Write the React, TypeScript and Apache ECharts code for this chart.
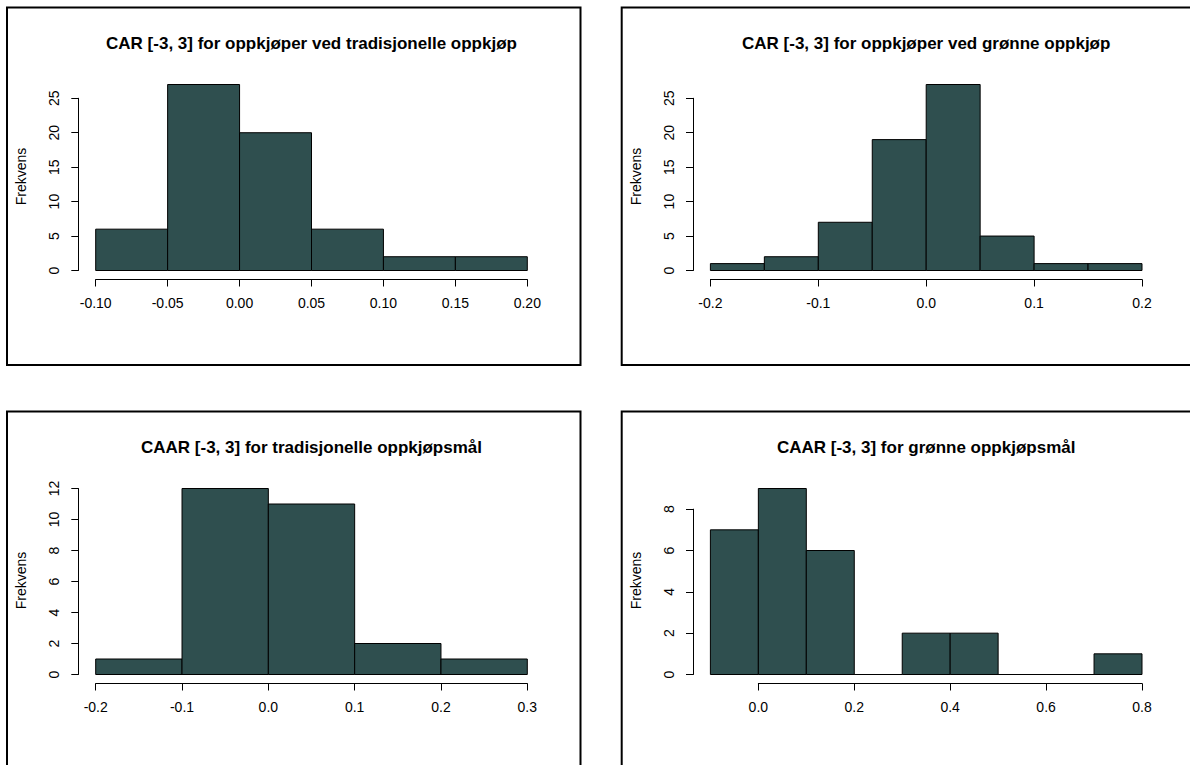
import React, { useEffect, useRef } from "react";
import * as echarts from "echarts";

// ---- Data ----
const titles = [
  "CAR [-3, 3] for oppkjøper ved tradisjonelle oppkjøp",
  "CAR [-3, 3] for oppkjøper ved grønne oppkjøp",
  "CAAR [-3, 3] for tradisjonelle oppkjøpsmål",
  "CAAR [-3, 3] for grønne oppkjøpsmål",
];
const yAxisName = "Frekvens";

const p1Edges = [-0.1, -0.05, 0.0, 0.05, 0.1, 0.15, 0.2];
const p1Counts = [6, 27, 20, 6, 2, 2];
const p1XTicks = [-0.1, -0.05, 0.0, 0.05, 0.1, 0.15, 0.2];
const p1YTicks = [0, 5, 10, 15, 20, 25];

const p2Edges = [-0.2, -0.15, -0.1, -0.05, 0.0, 0.05, 0.1, 0.15, 0.2];
const p2Counts = [1, 2, 7, 19, 27, 5, 1, 1];
const p2XTicks = [-0.2, -0.1, 0.0, 0.1, 0.2];
const p2YTicks = [0, 5, 10, 15, 20, 25];

const p3Edges = [-0.2, -0.1, 0.0, 0.1, 0.2, 0.3];
const p3Counts = [1, 12, 11, 2, 1];
const p3XTicks = [-0.2, -0.1, 0.0, 0.1, 0.2, 0.3];
const p3YTicks = [0, 2, 4, 6, 8, 10, 12];

const p4Edges = [-0.1, 0.0, 0.1, 0.2, 0.3, 0.4, 0.5, 0.6, 0.7, 0.8];
const p4Counts = [7, 9, 6, 0, 2, 2, 0, 0, 1];
const p4XTicks = [0.0, 0.2, 0.4, 0.6, 0.8];
const p4YTicks = [0, 2, 4, 6, 8];

const panels = [
  { edges: p1Edges, counts: p1Counts, xTicks: p1XTicks, yTicks: p1YTicks, dec: 2, col: 0, row: 0 },
  { edges: p2Edges, counts: p2Counts, xTicks: p2XTicks, yTicks: p2YTicks, dec: 1, col: 1, row: 0 },
  { edges: p3Edges, counts: p3Counts, xTicks: p3XTicks, yTicks: p3YTicks, dec: 1, col: 0, row: 1 },
  { edges: p4Edges, counts: p4Counts, xTicks: p4XTicks, yTicks: p4YTicks, dec: 1, col: 1, row: 1 },
];

const FONT = "'Liberation Sans', Arial, sans-serif";
const BAR_FILL = "#2F4F4F";

function buildOption() {
  const grid: any[] = [];
  const xAxis: any[] = [];
  const yAxis: any[] = [];
  const series: any[] = [];
  const graphic: any[] = [];

  const COL_DX = 614.7;
  const ROW_DY = 404;
  const PLOT_L = 95.7;
  const PLOT_W = 431.6;
  const ZERO_Y = 270.5;
  const PLOT_H = 186;
  const AXIS_X = 78.3;
  const XAXIS_Y = 279.5;

  panels.forEach((p, i) => {
    const dx = p.col * COL_DX;
    const dy = p.row * ROW_DY;
    const bMin = p.edges[0];
    const bMax = p.edges[p.edges.length - 1];
    const cMax = Math.max(...p.counts);
    const left = PLOT_L + dx;
    const top = ZERO_Y - PLOT_H + dy;
    const xPx = (v: number) => left + ((v - bMin) / (bMax - bMin)) * PLOT_W;

    // bar grid
    grid.push({ left, top, width: PLOT_W, height: PLOT_H, containLabel: false, outerBoundsMode: "none" });
    xAxis.push({ type: "value", gridIndex: 3 * i, min: bMin, max: bMax, show: false });
    yAxis.push({ type: "value", gridIndex: 3 * i, min: 0, max: cMax, show: false });

    // x axis grid
    const xt0 = p.xTicks[0];
    const xt1 = p.xTicks[p.xTicks.length - 1];
    const xStep = p.xTicks[1] - p.xTicks[0];
    grid.push({
      left: xPx(xt0),
      width: xPx(xt1) - xPx(xt0),
      top: XAXIS_Y + dy - 10,
      height: 10,
      containLabel: false,
      outerBoundsMode: "none",
    });
    xAxis.push({
      type: "value",
      gridIndex: 3 * i + 1,
      min: xt0,
      max: xt1,
      interval: xStep,
      position: "bottom",
      axisLine: { show: true, onZero: false, lineStyle: { color: "#000", width: 1 } },
      axisTick: { show: true, length: 7, lineStyle: { color: "#000", width: 1 } },
      splitLine: { show: false },
      axisLabel: {
        show: true,
        margin: 16,
        fontSize: 14,
        color: "#000",
        fontFamily: FONT,
        formatter: (v: number) => (Math.abs(v) < 1e-9 ? 0 : v).toFixed(p.dec),
      },
    });
    yAxis.push({ type: "value", gridIndex: 3 * i + 1, show: false, min: 0, max: 1 });

    // y axis grid
    const yt1 = p.yTicks[p.yTicks.length - 1];
    const yStep = p.yTicks[1] - p.yTicks[0];
    const yh = (yt1 / cMax) * PLOT_H;
    grid.push({
      left: AXIS_X + dx,
      width: 10,
      top: ZERO_Y + dy - yh,
      height: yh,
      containLabel: false,
      outerBoundsMode: "none",
    });
    xAxis.push({ type: "value", gridIndex: 3 * i + 2, show: false, min: 0, max: 1 });
    yAxis.push({
      type: "value",
      gridIndex: 3 * i + 2,
      min: 0,
      max: yt1,
      interval: yStep,
      position: "left",
      axisLine: { show: true, onZero: false, lineStyle: { color: "#000", width: 1 } },
      axisTick: { show: true, length: 7, lineStyle: { color: "#000", width: 1 } },
      splitLine: { show: false },
      axisLabel: {
        show: true,
        rotate: 90,
        margin: 17,
        fontSize: 14,
        color: "#000",
        fontFamily: FONT,
      },
    });

    series.push({
      type: "custom",
      xAxisIndex: 3 * i,
      yAxisIndex: 3 * i,
      clip: false,
      silent: true,
      data: p.counts.map((c, k) => [p.edges[k], p.edges[k + 1], c]),
      encode: { x: [0, 1], y: 2 },
      renderItem: (_params: any, api: any) => {
        const a = api.coord([api.value(0), 0]);
        const b = api.coord([api.value(1), api.value(2)]);
        return {
          type: "polygon",
          shape: {
            points: [
              [a[0], a[1]],
              [b[0], a[1]],
              [b[0], b[1]],
              [a[0], b[1]],
            ],
          },
          style: { fill: BAR_FILL, stroke: "#000", lineWidth: 1 },
        };
      },
    });

    // titles and y name
    graphic.push({
      type: "text",
      x: left + PLOT_W / 2,
      y: 43.5 + dy,
      style: {
        text: titles[i],
        fontFamily: FONT,
        fontWeight: "bold",
        fontSize: 17,
        fill: "#000",
        textAlign: "center",
        textVerticalAlign: "middle",
      },
    });
    graphic.push({
      type: "text",
      x: 21 + dx,
      y: ZERO_Y - PLOT_H / 2 - 1 + dy,
      rotation: Math.PI / 2,
      style: {
        text: yAxisName,
        fontFamily: FONT,
        fontSize: 14,
        fill: "#000",
        textAlign: "center",
        textVerticalAlign: "middle",
      },
    });
    // panel frame
    graphic.push({
      type: "rect",
      shape: { x: 7 + dx, y: 7.5 + dy, width: 573.5, height: 357.5 },
      style: { fill: "none", stroke: "#000", lineWidth: 2 },
    });
  });

  return {
    animation: false,
    backgroundColor: "#fff",
    grid,
    xAxis,
    yAxis,
    series,
    graphic,
  };
}

export default function App() {
  const ref = useRef<HTMLDivElement>(null);
  useEffect(() => {
    if (!ref.current) return;
    const chart = echarts.init(ref.current, undefined, { renderer: "svg" });
    chart.setOption(buildOption() as any);
    return () => chart.dispose();
  }, []);
  return (
    <div
      ref={ref}
      style={{ position: "absolute", left: 0, top: 0, width: 1190, height: 765, background: "#fff" }}
    />
  );
}
